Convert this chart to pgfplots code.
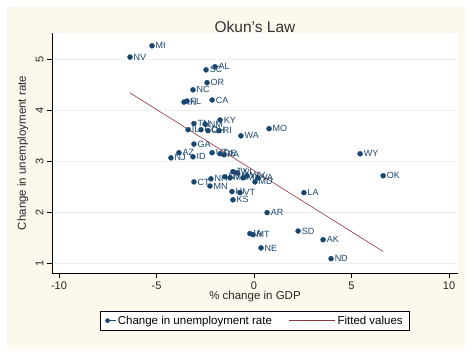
\documentclass[border=0pt]{standalone}
\usepackage{pgfplots}
\pgfplotsset{compat=1.18}
\usepackage{fontspec}
\setmainfont{Liberation Sans}
\definecolor{navy}{HTML}{1A476F}
\definecolor{maroon}{HTML}{90353B}
\definecolor{cream}{RGB}{252,248,236}
\definecolor{gridc}{RGB}{234,240,242}
\pgfplotsset{
  dotlegend/.style={legend image code/.code={\path (0pt,0pt) -- (10pt,0pt); \draw[#1, mark size=2pt] plot coordinates {(2pt,0pt)};}},
  linelegend/.style={legend image code/.code={\path (0pt,0pt) -- (46pt,0pt); \draw[#1] (0pt,0pt) -- (43pt,0pt);}},
}
\begin{document}
\begin{tikzpicture}
\fill[white] (0pt,0pt) rectangle (475pt,355pt);
\fill[cream] (7pt,7pt) rectangle (465pt,348pt);
\begin{axis}[
  at={(52pt,82pt)}, anchor=south west,
  scale only axis, width=406pt, height=240pt,
  xmin=-10.36, xmax=10.46, ymin=0.82, ymax=5.51,
  axis x line*=bottom, axis y line*=left,
  axis line style={-, line width=0.6pt, black},
  axis background/.style={fill=white},
  xtick={-10,-5,0,5,10}, ytick={1,2,3,4,5},
  tick align=outside, major tick length=5pt,
  tick style={black, line width=0.6pt},
  ymajorgrids, grid style={gridc, line width=0.6pt},
  /pgf/number format/assume math mode=true,
  ticklabel style={font=\fontsize{11}{12}\selectfont, text=black!85},
  yticklabel style={rotate=90, anchor=south},
  xlabel={\% change in GDP},
  ylabel={Change in unemployment rate},
  label style={font=\fontsize{11.5}{13}\selectfont, text=black!85},
  xlabel style={at={(axis description cs:0.5,-0.096)}, anchor=center},
  ylabel style={at={(axis description cs:-0.0714,0.5)}, anchor=center, rotate=0},
  title={Okun's Law},
  title style={at={(axis description cs:0.5,1)}, anchor=south, yshift=-7pt, inner sep=1pt, font=\fontsize{15.5}{17}\selectfont, text=black!80},
  legend columns=2,
  legend style={at={(axis description cs:0.5,-0.158)}, anchor=north, draw=black, line width=0.6pt, fill=white,
    font=\fontsize{11.5}{13}\selectfont, inner xsep=5pt, inner ysep=2.5pt,
    /tikz/every even column/.append style={column sep=15pt}},
]
\addplot[only marks, mark=*, mark size=2.5pt, color=navy, fill=navy,
  nodes near coords, point meta=explicit symbolic,
  nodes near coords style={anchor=west, xshift=3.5pt, inner sep=0pt, font=\fontsize{9}{10}\selectfont, text=navy},
  dotlegend
] table[meta=label] {
x y label
-5.23 5.26 MI
-6.36 5.04 NV
-2.00 4.85 AL
-2.46 4.79 SC
-2.41 4.54 OR
-3.13 4.40 NC
-3.44 4.18 FL
-3.59 4.16 IN
-2.15 4.20 CA
-3.08 3.74 TN
-2.51 3.73 NM
-1.74 3.81 KY
-3.38 3.62 IL
-2.72 3.62 CO
-2.36 3.60 OH
-1.79 3.60 RI
-0.67 3.50 WA
0.77 3.64 MO
-3.08 3.34 GA
-4.26 3.07 NJ
-3.85 3.17 AZ
-3.13 3.09 ID
-2.15 3.17 UT
-1.74 3.15 DE
-1.54 3.13 PA
-3.08 2.60 CT
-2.21 2.66 NH
-2.26 2.52 MN
-1.49 2.70 NY
-1.23 2.68 MS
-1.08 2.80 TX
-0.87 2.78 WI
-0.56 2.68 MA
-0.36 2.72 WV
0.05 2.60 MD
0.21 2.68 VA
-1.13 2.41 HI
-0.72 2.39 VT
-1.08 2.25 KS
0.67 2.00 AR
-0.21 1.59 IA
-0.05 1.57 MT
0.36 1.31 NE
2.26 1.64 SD
3.54 1.47 AK
3.95 1.10 ND
2.56 2.39 LA
5.44 3.15 WY
6.62 2.72 OK
};
\addlegendentry{Change in unemployment rate}
\addplot[maroon, line width=0.6pt, linelegend] coordinates {(-6.36,4.34) (6.62,1.24)};
\addlegendentry{Fitted values}
\end{axis}
\pgfresetboundingbox
\useasboundingbox (0pt,0pt) rectangle (475pt,355pt);
\end{tikzpicture}
\end{document}
